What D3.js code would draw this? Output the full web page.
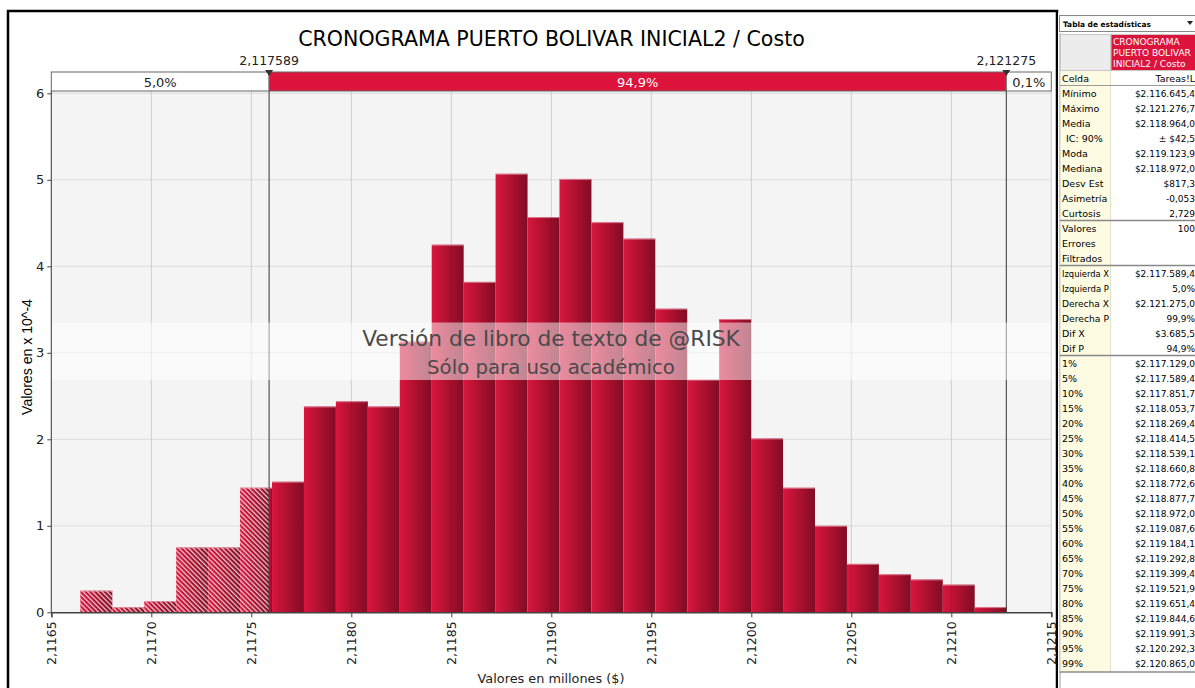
<!DOCTYPE html>
<html><head><meta charset="utf-8">
<script src="https://cdn.jsdelivr.net/npm/d3@7"></script>
<style>body{margin:0;background:#fff;} svg{display:block;}</style>
</head><body><svg id="c" width="1195" height="688"></svg>
<script>
// ---------- data ----------
const title = "CRONOGRAMA PUERTO BOLIVAR INICIAL2 / Costo";
const binMin = 2.1166454, binMax = 2.1212767;
const densities = [0.25,0.06,0.13,0.75,0.75,1.44,1.51,2.38,2.44,2.38,3.13,4.25,3.82,5.07,4.57,5.01,4.51,4.32,3.51,2.69,3.39,2.01,1.44,1.00,0.56,0.44,0.38,0.32,0.06];
const xTickValues = [2.1165,2.1170,2.1175,2.1180,2.1185,2.1190,2.1195,2.1200,2.1205,2.1210,2.1215];
const xTickLabels = ["2,1165","2,1170","2,1175","2,1180","2,1185","2,1190","2,1195","2,1200","2,1205","2,1210","2,1215"];
const yTickValues = [0,1,2,3,4,5,6];
const leftMarker = 2.117589, rightMarker = 2.121275;
const markerLabels = ["2,117589","2,121275"];
const bandLabels = ["5,0%","94,9%","0,1%"];
const yAxisTitle = "Valores en x 10^-4";
const xAxisTitle = "Valores en millones ($)";
const watermark = ["Versión de libro de texto de @RISK","Sólo para uso académico"];
const statLabels = ["Mínimo","Máximo","Media"," IC: 90%","Moda","Mediana","Desv Est","Asimetría","Curtosis","Valores","Errores","Filtrados","Izquierda X","Izquierda P","Derecha X","Derecha P","Dif X","Dif P","1%","5%","10%","15%","20%","25%","30%","35%","40%","45%","50%","55%","60%","65%","70%","75%","80%","85%","90%","95%","99%"];
const statValues = ["$2.116.645,4","$2.121.276,7","$2.118.964,0","± $42,5","$2.119.123,9","$2.118.972,0","$817,3","-0,053","2,729","100","","","$2.117.589,4","5,0%","$2.121.275,0","99,9%","$3.685,5","94,9%","$2.117.129,0","$2.117.589,4","$2.117.851,7","$2.118.053,7","$2.118.269,4","$2.118.414,5","$2.118.539,1","$2.118.660,8","$2.118.772,6","$2.118.877,7","$2.118.972,0","$2.119.087,6","$2.119.184,1","$2.119.292,8","$2.119.399,4","$2.119.521,9","$2.119.651,4","$2.119.844,6","$2.119.991,3","$2.120.292,3","$2.120.865,0"];
const separatorsAfter = [8, 11, 17];
const tableHeader = ["CRONOGRAMA","PUERTO BOLIVAR","INICIAL2 / Costo"];

// ---------- setup ----------
const svg = d3.select("#c");
const F = "'DejaVu Sans', Verdana, sans-serif";
const PL = 51.3, PR = 1051.3, PB = 612.3, PT = 91;
const x = d3.scaleLinear().domain([2.1165, 2.1215]).range([PL, PR]);
const y = d3.scaleLinear().domain([0, 6]).range([PB, 93.3]);

const defs = svg.append("defs");
const grad = defs.append("linearGradient").attr("id","bg").attr("x1","0").attr("x2","1").attr("y1","0").attr("y2","0");
grad.append("stop").attr("offset","0").attr("stop-color","#d9163d");
grad.append("stop").attr("offset","0.55").attr("stop-color","#a9102f");
grad.append("stop").attr("offset","1").attr("stop-color","#820c23");
const pat = defs.append("pattern").attr("id","hatch").attr("patternUnits","userSpaceOnUse")
  .attr("width",3.4).attr("height",3.4).attr("patternTransform","rotate(-45)");
pat.append("rect").attr("x",0).attr("y",0).attr("width",1.3).attr("height",3.4).attr("fill","#ffffff").attr("fill-opacity",0.75);

function fit(sel, w){ const n=sel.node(); const cur=n.getComputedTextLength(); const fs=parseFloat(sel.attr("font-size")); sel.attr("font-size", fs*w/cur); }
function shrink(sel, w){ sel.each(function(){ const s=d3.select(this); const cur=this.getComputedTextLength(); if(cur>w){ s.attr("font-size", parseFloat(s.attr("font-size"))*w/cur); } }); }

// outer frame
svg.append("rect").attr("x",8).attr("y",11).attr("width",1049).attr("height",690).attr("fill","#fff").attr("stroke","#000").attr("stroke-width",2.5);

// title
const t = svg.append("text").attr("x",551.5).attr("y",46).attr("text-anchor","middle").attr("font-family",F).attr("font-size",22).attr("fill","#000").text(title);
fit(t, 507);

// plot bg
svg.append("rect").attr("x",PL).attr("y",PT).attr("width",PR-PL).attr("height",PB-PT).attr("fill","#f4f4f4");

// grid
svg.append("g").selectAll("line").data(yTickValues).join("line")
  .attr("x1",PL).attr("x2",PR).attr("y1",d=>y(d)).attr("y2",d=>y(d)).attr("stroke","#dcdcdc");
svg.append("g").selectAll("line").data(xTickValues).join("line")
  .attr("x1",d=>x(d)).attr("x2",d=>x(d)).attr("y1",PT).attr("y2",PB).attr("stroke","#dcdcdc");

// bars
const n = densities.length, bw = (binMax-binMin)/n;
const segs = [];
densities.forEach((v,i)=>{
  const a = binMin+i*bw, b = a+bw;
  if (a < leftMarker) segs.push({a, b:Math.min(b,leftMarker), v, h:true});
  const sa = Math.max(a,leftMarker), sb = Math.min(b,rightMarker);
  if (sb > sa) segs.push({a:sa, b:sb, v, h:false});
  if (b > rightMarker) segs.push({a:Math.max(a,rightMarker), b, v, h:true});
});
const bars = svg.append("g");
bars.selectAll("rect.b").data(segs).join("rect").attr("class","b")
  .attr("x",d=>x(d.a)).attr("width",d=>x(d.b)-x(d.a)).attr("y",d=>y(d.v)).attr("height",d=>PB-y(d.v))
  .attr("fill","url(#bg)");
bars.selectAll("rect.h").data(segs.filter(d=>d.h)).join("rect").attr("class","h")
  .attr("x",d=>x(d.a)).attr("width",d=>x(d.b)-x(d.a)).attr("y",d=>y(d.v)).attr("height",d=>PB-y(d.v))
  .attr("fill","url(#hatch)");
bars.selectAll("line.top").data(segs).join("line").attr("class","top")
  .attr("x1",d=>x(d.a)).attr("x2",d=>x(d.b)).attr("y1",d=>y(d.v)+0.5).attr("y2",d=>y(d.v)+0.5)
  .attr("stroke","#e9a3b1").attr("stroke-opacity",0.7);
// faint grid through bars
svg.append("g").selectAll("line").data(xTickValues).join("line")
  .attr("x1",d=>x(d)).attr("x2",d=>x(d)).attr("y1",PT).attr("y2",PB).attr("stroke","#000").attr("stroke-opacity",0.06);

// markers lines
svg.append("g").selectAll("line").data([leftMarker,rightMarker]).join("line")
  .attr("x1",d=>x(d)).attr("x2",d=>x(d)).attr("y1",72).attr("y2",PB).attr("stroke","#333").attr("stroke-width",1);

// watermark
svg.append("rect").attr("x",PL).attr("y",322.5).attr("width",PR-PL).attr("height",57.5).attr("fill","#fff").attr("fill-opacity",0.5);
const w1 = svg.append("text").attr("x",551).attr("y",346).attr("text-anchor","middle").attr("font-family",F).attr("font-size",22).attr("fill","#4a4a4a").text(watermark[0]);
fit(w1, 378);
const w2 = svg.append("text").attr("x",551).attr("y",374).attr("text-anchor","middle").attr("font-family",F).attr("font-size",20).attr("fill","#4a4a4a").text(watermark[1]);
fit(w2, 248);

// band
const bandEdges = [PL, x(leftMarker), x(rightMarker), PR];
const bandG = svg.append("g");
bandLabels.forEach((lab,i)=>{
  bandG.append("rect").attr("x",bandEdges[i]).attr("y",72).attr("width",bandEdges[i+1]-bandEdges[i]).attr("height",19)
    .attr("fill", i===1 ? "#dc143c" : "#fff").attr("stroke","#666").attr("stroke-width",1);
  bandG.append("text").attr("x",(bandEdges[i]+bandEdges[i+1])/2).attr("y",87).attr("text-anchor","middle")
    .attr("font-family",F).attr("font-size",13).attr("fill", i===1 ? "#fff" : "#222").text(lab);
});
[leftMarker,rightMarker].forEach((m,i)=>{
  const mx = x(m);
  svg.append("path").attr("d",`M${mx-4},70 L${mx+4},70 L${mx},76 Z`).attr("fill","#333");
  svg.append("text").attr("x",mx).attr("y",65).attr("text-anchor","middle").attr("font-family",F).attr("font-size",12.5).attr("fill","#222").text(markerLabels[i]);
});

// axes
const ya = svg.append("g").attr("transform",`translate(${PL},0)`)
  .call(d3.axisLeft(y).tickValues(yTickValues).tickSize(4).tickFormat(d=>d));
ya.select(".domain").attr("stroke","#444").attr("d",`M0,${PT}V${PB}`);
ya.selectAll(".tick line").attr("stroke","#444");
ya.selectAll(".tick text").attr("font-family",F).attr("font-size",13).attr("fill","#222").attr("x",-7);

const xa = svg.append("g").attr("transform",`translate(0,${PB})`)
  .call(d3.axisBottom(x).tickValues(xTickValues).tickSize(5).tickFormat((d,i)=>xTickLabels[i]));
xa.select(".domain").attr("stroke","#444").attr("stroke-width",1.5);
xa.selectAll(".tick line").attr("stroke","#444");
xa.selectAll(".tick text").attr("font-family",F).attr("font-size",12.5).attr("fill","#222")
  .attr("transform","rotate(-90)").attr("text-anchor","end").attr("x",-9).attr("y",0).attr("dy","0.35em");

const yl = svg.append("text").attr("transform","translate(32,357) rotate(-90)").attr("text-anchor","middle")
  .attr("font-family","'Liberation Sans', Arial, sans-serif").attr("font-size",14).attr("fill","#000").text(yAxisTitle);
fit(yl, 116);
const xl = svg.append("text").attr("x",551).attr("y",683).attr("text-anchor","middle")
  .attr("font-family",F).attr("font-size",13).attr("fill","#222").text(xAxisTitle);
fit(xl, 147);

// ---------- stats table ----------
const T = svg.append("g");
const TF = "'DejaVu Sans', Tahoma, sans-serif";
T.append("rect").attr("x",1058).attr("y",13).attr("width",140).attr("height",680).attr("fill","#fff");
T.append("rect").attr("x",1059.5).attr("y",15.5).attr("width",140).attr("height",16).attr("fill","#fff").attr("stroke","#888");
const hdr = T.append("text").attr("x",1063).attr("y",27).attr("font-family",TF).attr("font-size",9.5).attr("font-weight",600).attr("fill","#000").text("Tabla de estadísticas");
fit(hdr, 88);
T.append("path").attr("d","M1187,21 L1193,21 L1190,25 Z").attr("fill","#222");
T.append("line").attr("x1",1060).attr("x2",1060).attr("y1",33).attr("y2",688).attr("stroke","#999");
T.append("rect").attr("x",1060.5).attr("y",34.5).attr("width",50).attr("height",36).attr("fill","#ececec").attr("stroke","#c8c8c8");
T.append("rect").attr("x",1111).attr("y",34.5).attr("width",90).attr("height",36).attr("fill","#dc143c").attr("stroke","#c8c8c8");
const th = T.selectAll("text.th").data(tableHeader).join("text").attr("class","th")
  .attr("x",1113).attr("y",(d,i)=>45+i*11).attr("font-family",TF).attr("font-size",10).attr("fill","#fff").text(d=>d);
let thFs = 10;
th.each(function(){ const w=this.getComputedTextLength(); if (w>78) thFs = Math.min(thFs, 10*78/w); });
th.attr("font-size", thFs);
const rowY = i => 93 + 15*i;
T.append("rect").attr("x",1060.5).attr("y",71).attr("width",50).attr("height",601).attr("fill","#fdfbe2");
T.append("line").attr("x1",1110.5).attr("x2",1110.5).attr("y1",71).attr("y2",672).attr("stroke","#e3e0c8");
T.append("text").attr("x",1062).attr("y",82).attr("font-family",TF).attr("font-size",9.5).attr("fill","#000").text("Celda");
T.append("text").attr("x",1195).attr("y",82).attr("text-anchor","end").attr("font-family",TF).attr("font-size",9.5).attr("fill","#000").text("Tareas!L");
T.append("line").attr("x1",1060).attr("x2",1195).attr("y1",85.5).attr("y2",85.5).attr("stroke","#999");
const sl = T.selectAll("text.sl").data(statLabels).join("text").attr("class","sl")
  .attr("x",d=>d.startsWith(" ") ? 1066 : 1062).attr("y",(d,i)=>rowY(i)+4).attr("font-family",TF).attr("font-size",9.5).attr("fill","#000")
  .text(d=>d.trim());
shrink(sl, 47);
T.selectAll("text.sv").data(statValues).join("text").attr("class","sv")
  .attr("x",1195).attr("y",(d,i)=>rowY(i)+4).attr("text-anchor","end")
  .attr("font-family",TF).attr("font-size",9).attr("fill","#000").text(d=>d);
separatorsAfter.forEach(i=>{
  const yy = rowY(i)+7.5;
  T.append("line").attr("x1",1060).attr("x2",1195).attr("y1",yy).attr("y2",yy).attr("stroke","#888").attr("stroke-width",1.5);
});
T.append("line").attr("x1",1060).attr("x2",1195).attr("y1",672).attr("y2",672).attr("stroke","#555");
</script></body></html>
